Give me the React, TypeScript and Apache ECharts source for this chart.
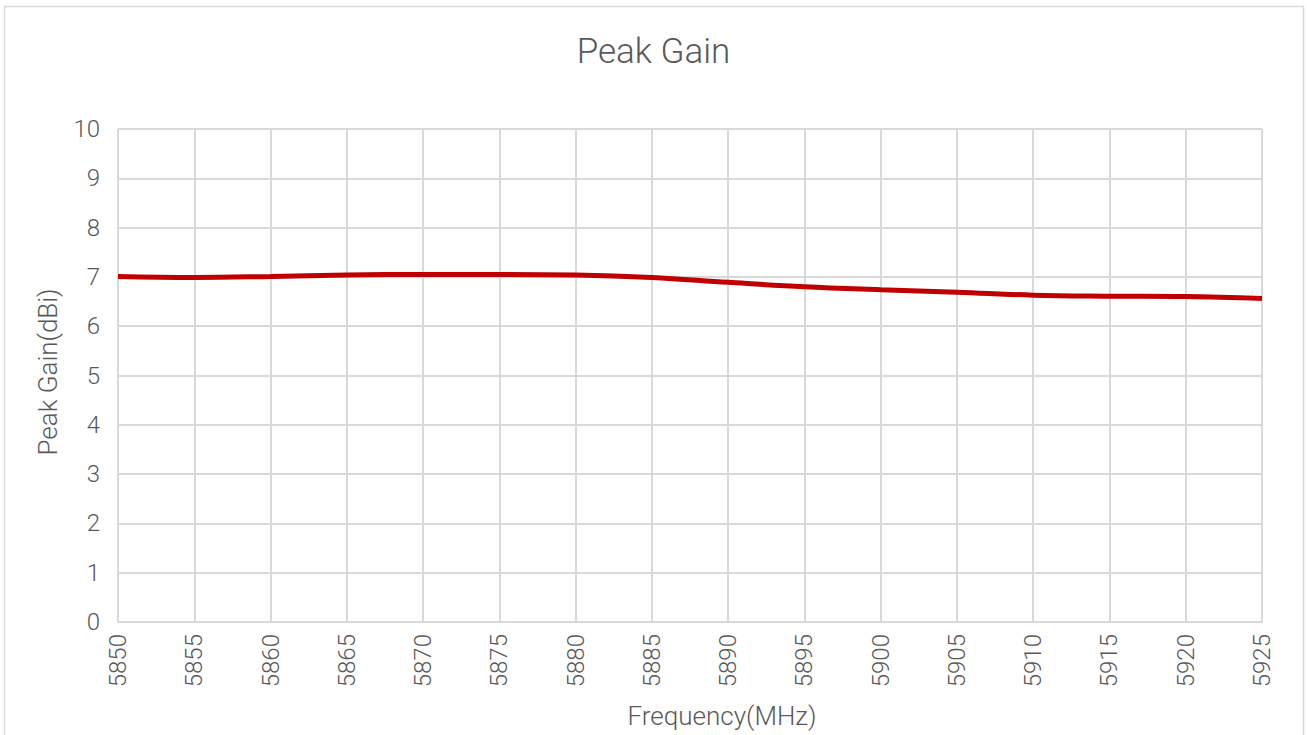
import React, { useEffect, useRef } from "react";
import * as echarts from "echarts";

const frequencies = [5850, 5855, 5860, 5865, 5870, 5875, 5880, 5885, 5890, 5895, 5900, 5905, 5910, 5915, 5920, 5925];
const peakGain = [7.01, 6.99, 7.01, 7.04, 7.05, 7.05, 7.04, 6.99, 6.89, 6.8, 6.74, 6.69, 6.63, 6.61, 6.6, 6.56];
const yTicks = [0, 1, 2, 3, 4, 5, 6, 7, 8, 9, 10];

const titleText = "Peak Gain";
const xName = "Frequency(MHz)";
const yName = "Peak Gain(dBi)";

const FONT = "Roboto, 'Noto Sans', sans-serif";
const TEXT = "#595959";
const GRID = "#d9d9d9";
const W = 300;

export default function App() {
  const ref = useRef<HTMLDivElement>(null);
  useEffect(() => {
    document.body.style.margin = "0";
    const chart = echarts.init(ref.current!, null, { renderer: "svg" });
    chart.setOption({
      animation: false,
      backgroundColor: "#ffffff",
      title: {
        text: titleText,
        left: "center",
        top: 29,
        textStyle: { color: TEXT, fontSize: 35, fontWeight: W, fontFamily: FONT },
      },
      grid: { left: 118, right: 45, top: 129, bottom: 113, containLabel: false },
      xAxis: {
        type: "value",
        min: frequencies[0],
        max: frequencies[frequencies.length - 1],
        interval: 5,
        axisLine: { show: true, lineStyle: { color: GRID, width: 2 } },
        axisTick: { show: false },
        splitLine: { show: true, lineStyle: { color: GRID, width: 2 } },
        axisLabel: {
          rotate: 90,
          margin: 12,
          color: TEXT,
          fontSize: 24,
          fontWeight: W,
          fontFamily: FONT,
          showMinLabel: true,
          showMaxLabel: true,
          formatter: (v: number) => String(v),
        },
      },
      yAxis: {
        type: "value",
        min: yTicks[0],
        max: yTicks[yTicks.length - 1],
        interval: 1,
        axisLine: { show: false },
        axisTick: { show: false },
        splitLine: { show: true, lineStyle: { color: GRID, width: 2 } },
        axisLabel: { margin: 18, color: TEXT, fontSize: 24, fontWeight: W, fontFamily: FONT },
      },
      graphic: [
        {
          type: "rect",
          shape: { x: 4.5, y: 6.5, width: 1299, height: 760 },
          style: { fill: "none", stroke: GRID, lineWidth: 1.5 },
          silent: true,
          z: -1,
        },
        {
          type: "text",
          x: 722,
          y: 716,
          style: {
            text: xName,
            fill: TEXT,
            fontSize: 26,
            fontWeight: W,
            fontFamily: FONT,
            align: "center",
            verticalAlign: "middle",
          },
        },
        {
          type: "text",
          x: 48,
          y: 372,
          rotation: Math.PI / 2,
          style: {
            text: yName,
            fill: TEXT,
            fontSize: 26,
            fontWeight: W,
            fontFamily: FONT,
            align: "center",
            verticalAlign: "middle",
          },
        },
      ],
      series: [
        {
          type: "line",
          data: frequencies.map((f, i) => [f, peakGain[i]]),
          smooth: 0.4,
          showSymbol: false,
          lineStyle: { color: "#C00000", width: 5 },
        },
      ],
    });
    return () => chart.dispose();
  }, []);
  return <div ref={ref} style={{ width: 1307, height: 735 }} />;
}
